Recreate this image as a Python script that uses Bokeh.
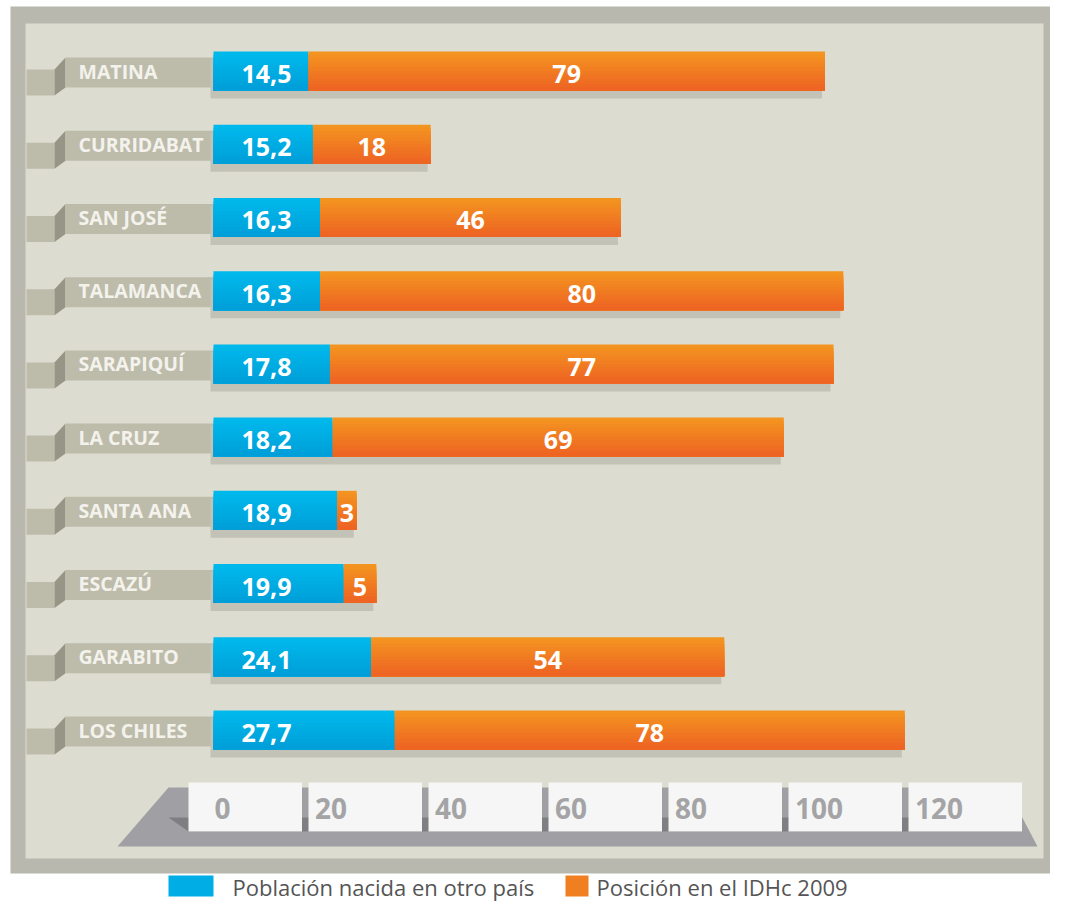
import numpy as np
from bokeh.plotting import figure
from bokeh.models import Range1d
from bokeh.core.properties import value
from bokeh.embed import file_html
from bokeh.resources import INLINE

# ---------------- data ----------------
municipios = ["MATINA", "CURRIDABAT", "SAN JOSÉ", "TALAMANCA", "SARAPIQUÍ",
              "LA CRUZ", "SANTA ANA", "ESCAZÚ", "GARABITO", "LOS CHILES"]
poblacion_otro_pais = [14.5, 15.2, 16.3, 16.3, 17.8, 18.2, 18.9, 19.9, 24.1, 27.7]
posicion_idhc_2009 = [79, 18, 46, 80, 77, 69, 3, 5, 54, 78]
tick_values = [0, 20, 40, 60, 80, 100, 120]
tick_labels = ["0", "20", "40", "60", "80", "100", "120"]
legend_labels = ["Población nacida en otro país", "Posición en el IDHc 2009"]

# ---------------- layout ----------------
W, H = 1050, 903
PX_PER_UNIT = 6.54
X0_PX = 213.0
ROW_PX = 73.22
ROW0_PX = 70.5
AXIS_X0 = 188.0
AXIS_PX_PER_UNIT = 6.0
FONT = value("Open Sans")
BASE_SHIFT = 0.38  # compensation of the rendered baseline, in em


def dx(px):
    return px / PX_PER_UNIT


def dy(px):
    return px / ROW_PX


p = figure(width=W, height=H, output_backend="svg", toolbar_location=None,
           x_range=Range1d(-X0_PX / PX_PER_UNIT, (W - X0_PX) / PX_PER_UNIT),
           y_range=Range1d((H - ROW0_PX) / ROW_PX, -ROW0_PX / ROW_PX),
           x_axis_location=None, y_axis_location=None, min_border=0)
p.min_border_left = p.min_border_right = p.min_border_top = p.min_border_bottom = 0
p.grid.visible = False
p.outline_line_color = None
p.background_fill_color = "white"
p.border_fill_color = "white"
p.extra_x_ranges = {"px": Range1d(0, W),
                    "axis": Range1d(-AXIS_X0 / AXIS_PX_PER_UNIT, (W - AXIS_X0) / AXIS_PX_PER_UNIT)}
p.extra_y_ranges = {"px": Range1d(H, 0)}

# ---------------- frame ----------------
p.quad(left=10, right=W, top=6, bottom=873, fill_color="#b8b8ae", line_color=None,
       x_range_name="px", y_range_name="px")
p.quad(left=25, right=1043, top=23, bottom=858, fill_color="#dddcd0", line_color=None,
       x_range_name="px", y_range_name="px")

rows = np.arange(len(municipios), dtype=float)
pob = np.array(poblacion_otro_pais, dtype=float)
idh = np.array(posicion_idhc_2009, dtype=float)
total = pob + idh

# ---------------- label tabs ----------------
p.quad(left=26, right=54, top=rows + dy(-1.5), bottom=rows + dy(24.5),
       fill_color="#bdbcab", line_color=None, x_range_name="px")
p.patches(xs=[[54, 65, 65, 54] for _ in rows],
          ys=[[c + dy(-1.5), c + dy(-13.5), c + dy(16.5), c + dy(24.5)] for c in rows],
          fill_color="#979686", line_color=None, x_range_name="px")
p.quad(left=65, right=X0_PX, top=rows + dy(-13.5), bottom=rows + dy(16.5),
       fill_color="#bdbcab", line_color=None, x_range_name="px")
p.text(x=[78] * len(rows), y=rows + dy(7.5 - BASE_SHIFT * 19.5), text=municipios, x_range_name="px",
       text_font=FONT, text_font_size="19.5px", text_font_style="bold",
       text_color="#f4f2ec", text_align="left", text_baseline="alphabetic")

# ---------------- shadows ----------------
BAR_H = 39.0
p.quad(left=np.full(len(rows), -dx(3)), right=total - dx(3),
       top=rows + dy(8 - BAR_H / 2), bottom=rows + dy(8 + BAR_H / 2),
       fill_color="#c3c2b6", line_color=None)


# ---------------- gradient bars ----------------
def hex2rgb(h):
    h = h.lstrip("#")
    return np.array([int(h[i:i + 2], 16) for i in (0, 2, 4)], dtype=float)


def mix(c1, c2, t):
    a, b = hex2rgb(c1), hex2rgb(c2)
    r = a + (b - a) * t
    return "#%02x%02x%02x" % tuple(int(round(v)) for v in r)


N = 12
for k in range(N):
    t = k / (N - 1)
    top = rows + dy(-BAR_H / 2 + k * BAR_H / N)
    bot = rows + dy(BAR_H / 2)
    p.quad(left=np.zeros(len(rows)), right=pob, top=top, bottom=bot,
           fill_color=mix("#00b9ec", "#009fd9", t), line_color=None)
    p.quad(left=pob, right=total, top=top, bottom=bot,
           fill_color=mix("#f39420", "#ee6423", t), line_color=None)

pob_txt = [f"{v:.1f}".replace(".", ",") for v in poblacion_otro_pais]
idh_txt = [str(v) for v in posicion_idhc_2009]
p.text(x=np.full(len(rows), dx(28)), y=rows + dy(12.5 - BASE_SHIFT * 25), text=pob_txt,
       text_font=FONT, text_font_size="25px", text_font_style="bold",
       text_color="white", text_align="left", text_baseline="alphabetic")
p.text(x=pob + idh / 2, y=rows + dy(12.5 - BASE_SHIFT * 25), text=idh_txt,
       text_font=FONT, text_font_size="25px", text_font_style="bold",
       text_color="white", text_align="center", text_baseline="alphabetic")

# ---------------- decorative axis ----------------
p.patch(x=[117, 168, 1006, 1037], y=[846, 787, 787, 846], fill_color="#a0a0a4",
        line_color=None, x_range_name="px", y_range_name="px")
p.patch(x=[168, 188, 188], y=[817, 817, 831], fill_color="#7f7f83",
        line_color=None, x_range_name="px", y_range_name="px")
p.quad(left=188, right=1021, top=817, bottom=831, fill_color="#7f7f83",
       line_color=None, x_range_name="px", y_range_name="px")
tv = np.array(tick_values, dtype=float)
p.quad(left=tv, right=tv + 113.5 / AXIS_PX_PER_UNIT, top=[782] * len(tv), bottom=[831] * len(tv),
       fill_color="#f5f6f5", line_color=None, x_range_name="axis", y_range_name="px")
label_pad = np.array([26.0 if t == 0 else 6.5 for t in tick_values]) / AXIS_PX_PER_UNIT
p.text(x=tv + label_pad, y=[819 - BASE_SHIFT * 28] * len(tv), text=tick_labels,
       x_range_name="axis", y_range_name="px",
       text_font=FONT, text_font_size="28px", text_font_style="bold",
       text_color="#a4a4a6", text_align="left", text_baseline="alphabetic")

# ---------------- legend ----------------
LEG_TOP = 875
p.quad(left=168, right=213, top=LEG_TOP, bottom=LEG_TOP + 21, fill_color="#00aee5",
       line_color=None, x_range_name="px", y_range_name="px")
p.quad(left=565, right=588, top=LEG_TOP, bottom=LEG_TOP + 21, fill_color="#f07f22",
       line_color=None, x_range_name="px", y_range_name="px")
p.text(x=[232, 596], y=[LEG_TOP + 20 - BASE_SHIFT * 22] * 2, text=legend_labels,
       x_range_name="px", y_range_name="px",
       text_font=FONT, text_font_size="22px", text_color="#555555",
       text_align="left", text_baseline="alphabetic")

open("out.html", "w").write(file_html(p, INLINE))
